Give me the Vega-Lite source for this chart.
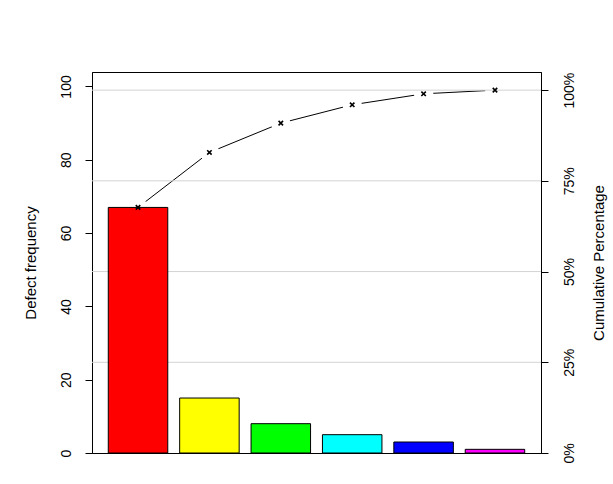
{
  "$schema": "https://vega.github.io/schema/vega-lite/v6.json",
  "width": 449,
  "height": 381,
  "autosize": {"type": "none"},
  "padding": {"left": 92, "top": 72, "right": 72, "bottom": 31},
  "background": "white",
  "config": {
    "view": {"stroke": "black", "strokeWidth": 1},
    "font": "Liberation Sans",
    "axis": {
      "labelFont": "Liberation Sans",
      "titleFont": "Liberation Sans",
      "labelFontSize": 14,
      "titleFontSize": 15,
      "titleFontWeight": "normal",
      "labelColor": "black",
      "titleColor": "black",
      "domainColor": "black",
      "tickColor": "black",
      "tickSize": 7,
      "grid": false
    }
  },
  "datasets": {
    "bars": [
      {"cat": "A", "count": 67, "pct": 0.6768, "color": "#FF0000"},
      {"cat": "B", "count": 15, "pct": 0.8283, "color": "#FFFF00"},
      {"cat": "C", "count": 8, "pct": 0.9091, "color": "#00FF00"},
      {"cat": "D", "count": 5, "pct": 0.9596, "color": "#00FFFF"},
      {"cat": "E", "count": 3, "pct": 0.9899, "color": "#0000FF"},
      {"cat": "F", "count": 1, "pct": 1.0, "color": "#FF00FF"}
    ],
    "grid": [{"p": 0.25}, {"p": 0.5}, {"p": 0.75}, {"p": 1.0}]
  },
  "layer": [
    {
      "data": {"name": "bars"},
      "mark": {"type": "line", "color": "black", "strokeWidth": 1},
      "encoding": {
        "x": {"field": "cat", "type": "nominal", "sort": null, "scale": {"paddingInner": 0.1667, "paddingOuter": 0.228}, "axis": null},
        "y": {"field": "pct", "type": "quantitative", "scale": {"domain": [0, 1.05], "nice": false, "zero": true}, "axis": null}
      }
    },
    {
      "data": {"name": "bars"},
      "mark": {"type": "point", "shape": "circle", "filled": true, "color": "white", "opacity": 1, "size": 380, "strokeWidth": 0},
      "encoding": {
        "x": {"field": "cat", "type": "nominal", "sort": null, "axis": null},
        "y": {"field": "pct", "type": "quantitative", "scale": {"domain": [0, 1.05], "nice": false, "zero": true}, "axis": null}
      }
    },
    {
      "data": {"name": "grid"},
      "mark": {"type": "rule", "color": "#d3d3d3", "strokeWidth": 1},
      "encoding": {
        "y": {
          "field": "p",
          "type": "quantitative",
          "scale": {"domain": [0, 1.05], "nice": false, "zero": true},
          "axis": {
            "orient": "right",
            "title": "Cumulative Percentage",
            "values": [0, 0.25, 0.5, 0.75, 1],
            "format": ".0%",
            "labelAngle": 270,
            "labelAlign": "center",
            "labelBaseline": "top",
            "labelPadding": 14,
            "titleAngle": 270,
            "titlePadding": 30
          }
        }
      }
    },
    {
      "data": {"name": "bars"},
      "mark": {"type": "bar", "stroke": "black", "strokeWidth": 1},
      "encoding": {
        "x": {"field": "cat", "type": "nominal", "sort": null, "axis": null},
        "y": {
          "field": "count",
          "type": "quantitative",
          "scale": {"domain": [0, 103.95], "nice": false, "zero": true},
          "axis": {
            "orient": "left",
            "title": "Defect frequency",
            "values": [0, 20, 40, 60, 80, 100],
            "labelAngle": 270,
            "labelAlign": "center",
            "labelBaseline": "bottom",
            "labelPadding": 12,
            "titleAngle": 270,
            "titlePadding": 21
          }
        },
        "color": {"field": "color", "type": "nominal", "scale": null}
      }
    },
    {
      "data": {"name": "bars"},
      "mark": {"type": "point", "shape": "M-1,-1L1,1M-1,1L1,-1", "filled": false, "color": "black", "strokeWidth": 1.6, "size": 20, "opacity": 1},
      "encoding": {
        "x": {"field": "cat", "type": "nominal", "sort": null, "axis": null},
        "y": {"field": "pct", "type": "quantitative", "scale": {"domain": [0, 1.05], "nice": false, "zero": true}, "axis": null}
      }
    }
  ],
  "resolve": {"scale": {"y": "independent"}, "axis": {"y": "independent"}}
}
